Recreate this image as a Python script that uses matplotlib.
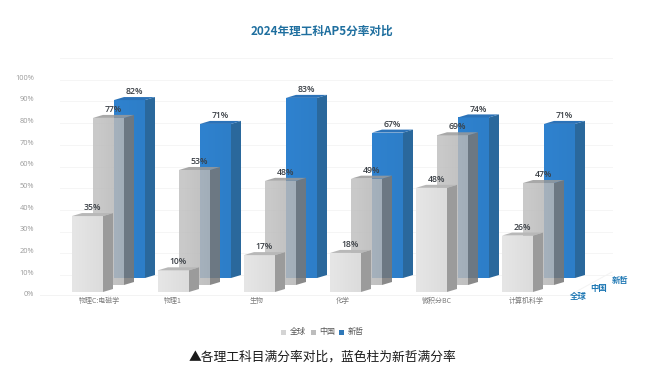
import numpy as np
import matplotlib
matplotlib.use('Agg')
import matplotlib.pyplot as plt
from matplotlib.colors import to_rgb
from matplotlib.patches import Polygon

plt.rcParams['font.family'] = ['Noto Sans CJK SC', 'DejaVu Sans']

categories = ['物理C:电磁学', '物理1', '生物', '化学', '微积分BC', '计算机科学']
series_names = ['全球', '中国', '新哲']
global_vals = [35, 10, 17, 18, 48, 26]
china_vals = [77, 53, 48, 49, 69, 47]
xinzhe_vals = [82, 71, 83, 67, 74, 71]
y_ticks = list(range(0, 101, 10))

W, H = 661, 381
PX_X = 86.0    # px per category
PX_Y = 2.17    # px per percent
X0, Y0 = 72.0, 292.0   # front row origin in px

# depth geometry, in data units
BAR_W = 31 / PX_X
SIDE_X, SIDE_Y = 10 / PX_X, 3 / PX_Y
ROW_X, ROW_Y = 21 / PX_X, 7 / PX_Y

# row styles: front face left/right, side, top, alpha
styles = [
    dict(left='#e6e6e6', right='#dcdcdc', side='#9b9b9b', top='#b8b8b8', alpha=1.0),
    dict(left='#c2c2c2', right='#b6b6b6', side='#777777', top='#9a9a9a', alpha=0.86),
    dict(left='#2f82cf', right='#2d7ec8', side='#2a689c', top='#2b72b8', alpha=1.0),
]

fig = plt.figure(figsize=(W / 100, H / 100), dpi=100)
ax = fig.add_axes([0, 0, 1, 1])


def px_x(px):
    return (px - X0) / PX_X


def px_y(py):
    return (Y0 - py) / PX_Y


def draw_bar(i, row, value, st, z):
    x = i + row * ROW_X
    y0 = row * ROW_Y
    y1 = y0 + value
    a = st['alpha']
    bar = ax.bar(x, value, BAR_W, bottom=y0, align='edge', color='none', linewidth=0, zorder=z)[0]
    grad = np.linspace(to_rgb(st['left']), to_rgb(st['right']), 32).reshape(1, 32, 3)
    im = ax.imshow(grad, extent=(x, x + BAR_W, y0, y1), aspect='auto', alpha=a, zorder=z)
    im.set_clip_path(bar)
    ax.add_patch(Polygon([(x + BAR_W, y0), (x + BAR_W + SIDE_X, y0 + SIDE_Y),
                          (x + BAR_W + SIDE_X, y1 + SIDE_Y), (x + BAR_W, y1)],
                         color=st['side'], alpha=a, lw=0, zorder=z))
    ax.add_patch(Polygon([(x, y1), (x + SIDE_X, y1 + SIDE_Y),
                          (x + BAR_W + SIDE_X, y1 + SIDE_Y), (x + BAR_W, y1)],
                         color=st['top'], alpha=a, lw=0, zorder=z))
    ax.text(x + BAR_W / 2 + SIDE_X / 2, y1 + SIDE_Y + 0.4, f'{value}%', ha='center', va='bottom',
            fontsize=6.2, color='#3a3f45', family='Open Sans', fontweight='semibold', zorder=50)


# faint back wall and floor
wall_x = [px_x(60), px_x(612)]
for t in y_ticks:
    wy = t + 2 * ROW_Y + 3 / PX_Y
    ax.plot(wall_x, [wy, wy], color='#f5f5f5', lw=0.7, zorder=1)
ax.plot([px_x(40), px_x(570)], [px_y(295), px_y(295)], color='#f3f3f3', lw=0.7, zorder=1)
ax.plot([px_x(570), px_x(612)], [px_y(295), px_y(272)], color='#f3f3f3', lw=0.7, zorder=1)

rows = [global_vals, china_vals, xinzhe_vals]
for row in [2, 1, 0]:
    for i, v in enumerate(rows[row]):
        draw_bar(i, row, v, styles[row], 10 + (2 - row) * 10)

# y tick labels
for t in y_ticks:
    ax.text(px_x(34), px_y(295) + t, f'{t}%', ha='right', va='center', fontsize=5.3,
            color='#9a9a9a', family='Open Sans')

# category labels
label_shift = [99, 173, 257, 343, 437, 526]
for name, px in zip(categories, label_shift):
    ax.text(px_x(px), px_y(300.5), name, ha='center', va='center', fontsize=5, color='#7a7a7a')

# depth axis labels
for name, (px, py) in zip(series_names, [(578, 296), (599, 288), (620, 280)]):
    ax.text(px_x(px), px_y(py), name, ha='center', va='center', fontsize=6,
            color='#1f78b4', fontweight='bold')

# title
ax.text(px_x(322), px_y(31), '2024年理工科AP5分率对比', ha='center', va='center', fontsize=8.4,
        color='#1f6f9f', fontweight='bold')

# legend
legend_cols = ['#d4d4d4', '#bdbdbd', '#2f78b8']
for name, col, mx, tx in zip(series_names, legend_cols, [283, 313, 341], [298, 327, 356]):
    ax.plot(px_x(mx), px_y(332), 's', ms=3.6, color=col, mew=0)
    ax.text(px_x(tx), px_y(331.5), name, ha='center', va='center', fontsize=5.8, color='#555555',
            fontweight='medium')

# caption
ax.text(px_x(322), px_y(357), '▲各理工科目满分率对比，蓝色柱为新哲满分率', ha='center', va='center',
        fontsize=9.2, color='#1a1a1a')

ax.set_xlim(px_x(0), px_x(W))
ax.set_ylim(px_y(H), px_y(0))
ax.axis('off')
fig.savefig('out.png', dpi=100, facecolor='white')
